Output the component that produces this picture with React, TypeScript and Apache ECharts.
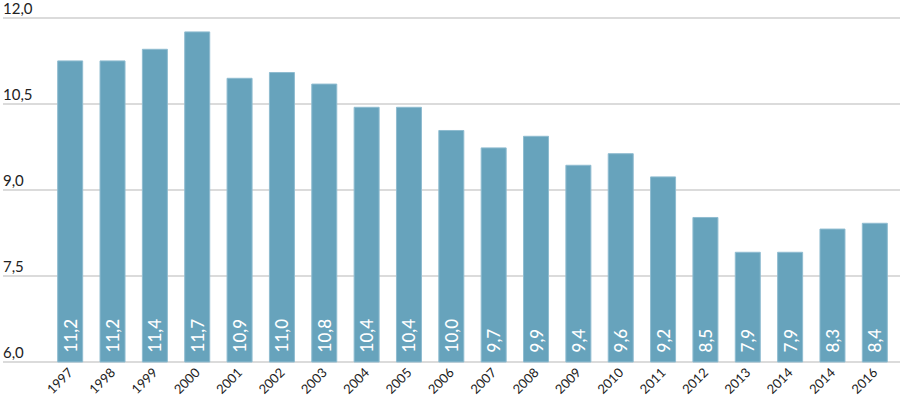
import React, { useEffect, useRef } from "react";
import * as echarts from "echarts";

const categories = ["1997","1998","1999","2000","2001","2002","2003","2004","2005","2006","2007","2008","2009","2010","2011","2012","2013","2014","2014","2016"];
const values = [11.2,11.2,11.4,11.7,10.9,11.0,10.8,10.4,10.4,10.0,9.7,9.9,9.4,9.6,9.2,8.5,7.9,7.9,8.3,8.4];
const yMin = 6;
const yMax = 12;
const yInterval = 1.5;

const fmt = (v: number) => v.toFixed(1).replace(".", ",");

export default function App() {
  const ref = useRef<HTMLDivElement>(null);
  useEffect(() => {
    if (!ref.current) return;
    const chart = echarts.init(ref.current, null, { renderer: "svg" });
    const font = "Lato, 'Open Sans', sans-serif";
    chart.setOption({
      animation: false,
      textStyle: { fontFamily: font },
      grid: [
        { left: 0, right: 0, top: 14, bottom: 36 },
        { left: 49, right: 4, top: 14, bottom: 36 },
      ],
      xAxis: [
        { gridIndex: 0, type: "value", min: 0, max: 1, show: false },
        {
          gridIndex: 1,
          type: "category",
          data: categories,
          axisLine: { show: false },
          axisTick: { show: false },
          axisLabel: {
            rotate: 45,
            color: "#222",
            fontSize: 13,
            fontFamily: font,
            margin: 8,
            interval: 0,
          },
        },
      ],
      yAxis: [
        {
          gridIndex: 0,
          type: "value",
          min: yMin,
          max: yMax,
          interval: yInterval,
          axisLine: { show: false },
          axisTick: { show: false },
          splitLine: { show: true, lineStyle: { color: "#cfcfcf", width: 1.5 } },
          axisLabel: {
            inside: true,
            margin: 0,
            verticalAlign: "bottom",
            padding: [0, 0, 3, 0],
            color: "#222",
            fontSize: 15,
            fontFamily: font,
            formatter: (v: number) => fmt(v),
          },
        },
        {
          gridIndex: 1,
          type: "value",
          min: yMin,
          max: yMax,
          interval: yInterval,
          show: false,
          splitLine: { show: false },
        },
      ],
      series: [
        {
          type: "bar",
          xAxisIndex: 1,
          yAxisIndex: 1,
          data: values,
          barWidth: 26,
          itemStyle: { color: "#67a3bc", borderColor: "#8fbcd0", borderWidth: 1 },
          label: {
            show: true,
            position: "insideBottom",
            rotate: 90,
            align: "left",
            verticalAlign: "middle",
            distance: 10,
            color: "#fff",
            fontSize: 17,
            fontWeight: 500,
            fontFamily: font,
            formatter: (p: any) => fmt(p.value),
          },
        },
      ],
    });
    return () => chart.dispose();
  }, []);
  return <div ref={ref} style={{ width: 900, height: 398, position: "absolute", left: 0, top: 0 }} />;
}
